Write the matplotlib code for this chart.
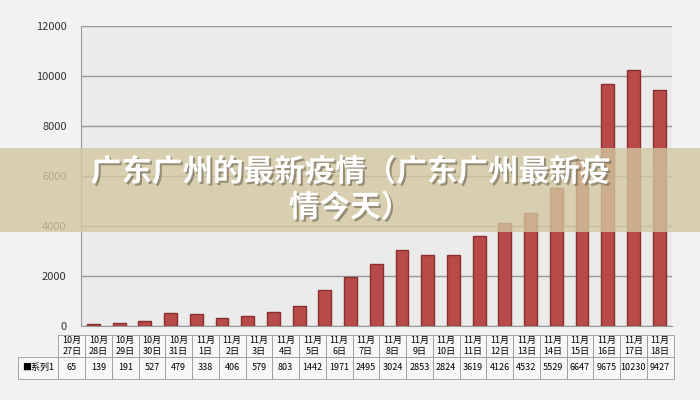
import matplotlib
matplotlib.use("Agg")
import matplotlib.pyplot as plt
import matplotlib.patheffects as pe

plt.rcParams['font.family'] = ['Noto Sans CJK SC', 'DejaVu Sans']

dates = ["10月\n27日","10月\n28日","10月\n29日","10月\n30日","10月\n31日","11月\n1日","11月\n2日","11月\n3日","11月\n4日","11月\n5日","11月\n6日","11月\n7日","11月\n8日","11月\n9日","11月\n10日","11月\n11日","11月\n12日","11月\n13日","11月\n14日","11月\n15日","11月\n16日","11月\n17日","11月\n18日"]
values = [65,139,191,527,479,338,406,579,803,1442,1971,2495,3024,2853,2824,3619,4126,4532,5529,6647,9675,10230,9427]
series = "系列1"
title = "广东广州的最新疫情（广东广州最新疫\n情今天）"

fig = plt.figure(figsize=(7,4), dpi=100)
fig.patch.set_facecolor('#f2f2f2')
ax = fig.add_axes([0.115, 0.185, 0.845, 0.75])
ax.set_facecolor('#ebebeb')
x = range(len(values))
ax.bar(x, values, width=0.5, color='#b84a4a', edgecolor='#8a2e2e', zorder=3)
ax.set_ylim(0, 12000)
ax.set_xlim(-0.5, len(values)-0.5)
ax.set_yticks(range(0, 12001, 2000))
ax.tick_params(axis='y', labelsize=8, colors='#333333', length=0, pad=10)
ax.set_xticks([])
ax.grid(axis='y', color='#999999', lw=1, zorder=0)
for s in ['top','right']:
    ax.spines[s].set_visible(False)
ax.spines['left'].set_color('#999999')
ax.spines['bottom'].set_color('#999999')

tab = ax.table(cellText=[[str(v) for v in values]], rowLabels=["■"+series], colLabels=dates,
               cellLoc='center', bbox=[-0.04, -0.175, 1.04, 0.145])
tab.auto_set_font_size(False)
tab.set_fontsize(6.5)
for (r, c), cell in tab.get_celld().items():
    cell.set_edgecolor('#999999')
    cell.set_facecolor('#f7f7f7')
    cell.set_linewidth(0.6)

fig.patches.append(plt.Rectangle((0, 0.42), 1, 0.21, transform=fig.transFigure,
                                 facecolor='#d2c8a0', alpha=0.8, zorder=10))
fig.text(0.5, 0.525, title, ha='center', va='center', fontsize=22, fontweight='bold',
         color='white', zorder=11, linespacing=1.15,
         path_effects=[pe.withSimplePatchShadow(offset=(1.5,-1.5), shadow_rgbFace='#6e6450', alpha=0.6)])
fig.savefig('out.png')
